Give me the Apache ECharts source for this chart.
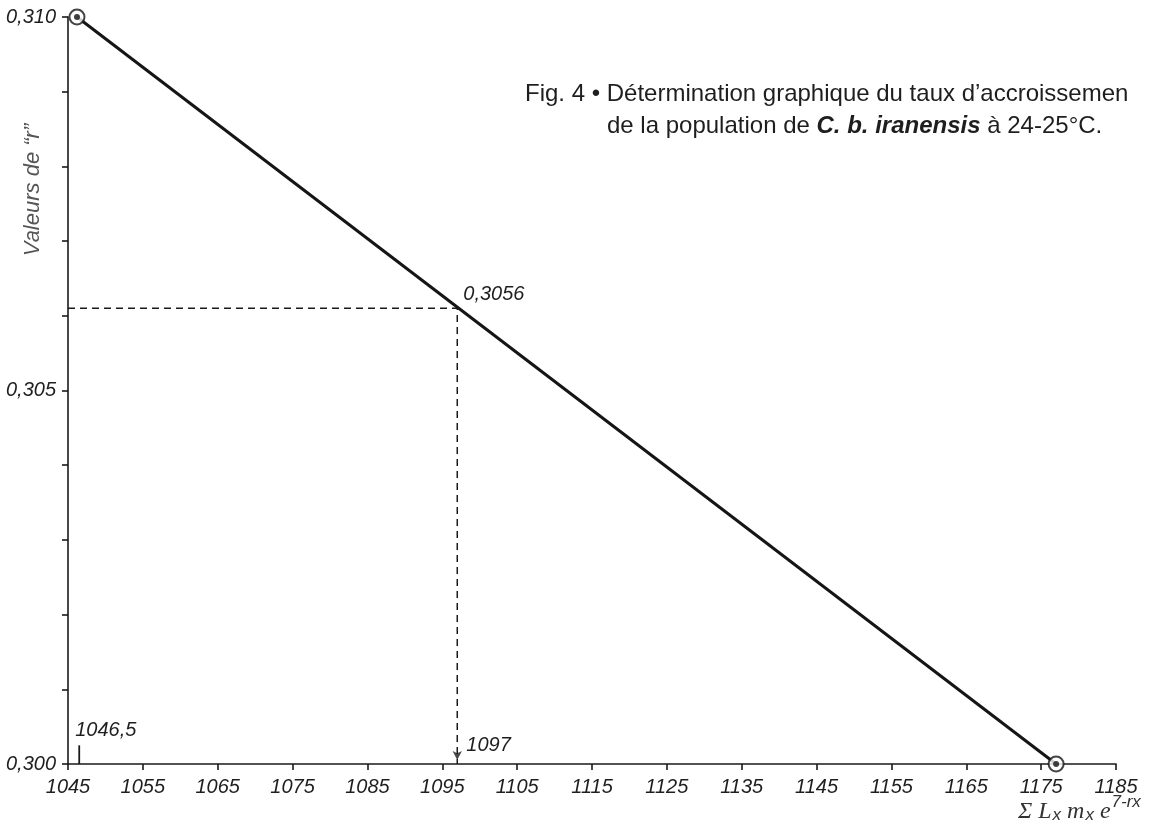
<!DOCTYPE html>
<html><head><meta charset="utf-8">
<script src="https://cdn.jsdelivr.net/npm/echarts@6/dist/echarts.min.js"></script>
<style>html,body{margin:0;padding:0;background:#fff}#c{width:1154px;height:827px}</style>
</head><body><div id="c"></div>
<script>
// x-axis (Σ Lx mx e^(7-rx)) range and ticks
const xMin = 1045, xMax = 1185, xStep = 10;
// y-axis ("r") range, tick step and labelled step
const yMin = 0.300, yMax = 0.310, yStep = 0.001, yLabelStep = 0.005;
// the straight line determined graphically (two circled end points)
const lineX = [1046.2, 1177];
const lineY = [0.310, 0.300];
// reading of the line at the solution point
const readX = 1097;
const readY = 0.3061;
const readLabel = '0,3056';
const readXLabel = '1097';
// starting value marked on the x axis
const startX = 1046.5;
const startLabel = '1046,5';
const startMarkTop = 0.30025;

const titlePrefix = 'Fig. 4 • ';
const titleLine1 = 'Détermination graphique du taux d\u2019accroissemen';
const titleLine2a = 'de la population de ';
const titleLine2b = 'C. b. iranensis';
const titleLine2c = ' à 24-25°C.';
const yName = 'Valeurs de \u201Cr\u201D';

const fmt = v => v.toFixed(3).replace('.', ',');
const numFont = '"Liberation Sans", Arial, sans-serif';
const txtFont = '"Liberation Sans", Arial, sans-serif';
const annLabel = { show: true, color: '#1e1e1e', fontSize: 20, fontStyle: 'italic', fontFamily: numFont,
  position: 'insideBottomLeft', align: 'left', verticalAlign: 'bottom' };

const chart = echarts.init(document.getElementById('c'));
chart.setOption({
  backgroundColor: '#ffffff',
  animation: false,
  grid: { left: 68, right: 38, top: 17, bottom: 63, containLabel: false },
  xAxis: {
    type: 'value', min: xMin, max: xMax, interval: xStep,
    splitLine: { show: false },
    axisLine: { lineStyle: { color: '#1a1a1a', width: 1.6 } },
    axisTick: { show: true, length: 6, lineStyle: { color: '#1a1a1a', width: 1.6 } },
    axisLabel: { color: '#1e1e1e', fontSize: 20, fontStyle: 'italic', fontFamily: numFont, margin: 13,
      formatter: v => String(Math.round(v)) }
  },
  yAxis: {
    type: 'value', min: yMin, max: yMax, interval: yStep,
    splitLine: { show: false },
    axisLine: { lineStyle: { color: '#1a1a1a', width: 1.6 } },
    axisTick: { show: true, length: 6, lineStyle: { color: '#1a1a1a', width: 1.6 } },
    axisLabel: { color: '#1e1e1e', fontSize: 20, fontStyle: 'italic', fontFamily: numFont, margin: 12,
      formatter: v => {
        const k = Math.round((v - yMin) / yStep);
        const every = Math.round(yLabelStep / yStep);
        return k % every === 0 ? fmt(v) : '';
      } }
  },
  series: [
    { type: 'line', data: lineX.map((x, i) => [x, lineY[i]]), symbol: 'none',
      lineStyle: { color: '#151515', width: 3 }, z: 3 },
    { type: 'line', data: [[xMin, readY], [readX, readY], [readX, yMin]], symbol: 'none',
      lineStyle: { color: '#1a1a1a', width: 1.5, type: [7, 5] }, z: 2 },
    { type: 'line', data: [[startX, yMin], [startX, startMarkTop]], symbol: 'none',
      lineStyle: { color: '#1a1a1a', width: 1.8 }, z: 2 },
    { type: 'scatter', data: lineX.map((x, i) => [x, lineY[i]]), symbol: 'circle', symbolSize: 15,
      itemStyle: { color: '#ffffff', borderColor: '#151515', borderWidth: 2 }, z: 5 },
    { type: 'scatter', data: lineX.map((x, i) => [x, lineY[i]]), symbol: 'circle', symbolSize: 6,
      itemStyle: { color: '#111' }, z: 6 },
    { type: 'scatter', data: [[readX, yMin]], symbol: 'arrow', symbolSize: [7, 9], symbolRotate: 180,
      symbolOffset: [0, -4], itemStyle: { color: '#1a1a1a' }, z: 4 },
    { type: 'scatter', symbolSize: 0, z: 7, itemStyle: { color: '#1e1e1e', opacity: 1 },
      data: [
        { value: [readX, readY], label: Object.assign({}, annLabel, { formatter: readLabel, offset: [1, 1] }) },
        { value: [readX, yMin], label: Object.assign({}, annLabel, { formatter: readXLabel, offset: [4, -4] }) },
        { value: [startX, startMarkTop], label: Object.assign({}, annLabel, { formatter: startLabel, offset: [-9, 0] }) }
      ]
    }
  ],
  graphic: [
    { type: 'text', left: 525, top: 82, style: {
        text: '{n|' + titlePrefix + titleLine1 + '}',
        rich: { n: { fill: '#1e1e1e', fontSize: 24, fontFamily: txtFont } } } },
    { type: 'text', left: 607, top: 114, style: {
        text: '{n|' + titleLine2a + '}{b|' + titleLine2b + '}{n|' + titleLine2c + '}',
        rich: {
          n: { fill: '#1e1e1e', fontSize: 24, fontFamily: txtFont },
          b: { fill: '#1e1e1e', fontSize: 24, fontFamily: txtFont, fontWeight: 'bold', fontStyle: 'italic' }
        } } },
    { type: 'text', x: 33, y: 190, rotation: Math.PI / 2, style: {
        text: yName, fill: '#555', font: 'italic 22px "Liberation Sans", Arial, sans-serif',
        align: 'center', verticalAlign: 'middle' } },
    { type: 'text', left: 1018, top: 794, style: {
        text: '{m|Σ L}{s|x}{m| m}{s|x}{m| e}{p|7-rx}',
        rich: {
          m: { fontSize: 24, fontStyle: 'italic', fontFamily: '"Liberation Serif", serif', fill: '#333', padding: [10, 0, 0, 0] },
          s: { fontSize: 17, fontStyle: 'italic', fontFamily: '"Liberation Sans", sans-serif', fill: '#333', padding: [18, 0, 0, 1] },
          p: { fontSize: 17, fontStyle: 'italic', fontFamily: '"Liberation Sans", sans-serif', fill: '#333', padding: [0, 0, 8, 1] }
        } } }
  ]
});
</script></body></html>
